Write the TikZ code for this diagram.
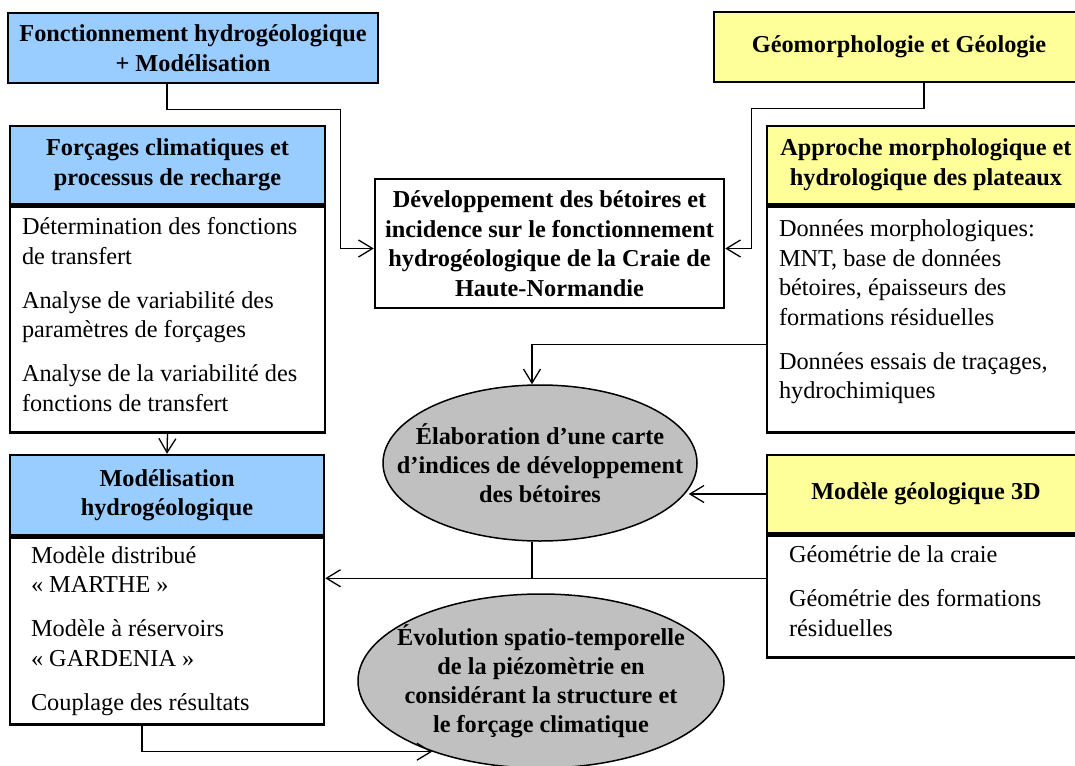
\documentclass[tikz,border=0pt]{standalone}
\usepackage{fontspec}
\setmainfont{Liberation Serif}
\usepackage{xcolor}
\usetikzlibrary{shapes.geometric, arrows.meta}
\usetikzlibrary{positioning}

\definecolor{hdrblue}{HTML}{99CCFF}
\definecolor{hdryellow}{HTML}{FFFF99}
\definecolor{ovalgray}{HTML}{C0C0C0}

\begin{document}
\begin{tikzpicture}[x=1pt, y=-1pt,
      every node/.style = {align=center, inner sep=0pt,
        font=\fontsize{24.3}{29.5}\selectfont},
      box/.style = {shape=rectangle, draw, line width=2.5pt,
        font=\fontsize{24.3}{29.5}\selectfont\bfseries},
      blue box/.style = {box, fill=hdrblue},
      yellow box/.style = {box, fill=hdryellow},
      list/.style = {shape=rectangle, draw, line width=2.5pt, fill=white,
        align=flush left, anchor=north},
      oval/.style = {shape=ellipse, draw, line width=1.5pt, fill=ovalgray},
      oval text/.style = {font=\fontsize{24.3}{29}\selectfont\bfseries},
      line/.style = {line width=1.3pt},
      link/.style = {line, -{Straight Barb[length=14pt,width=17pt]}}]
      \useasboundingbox (0,0) rectangle (1075,765);

      % top boxes
      \node[blue box, minimum width=370pt, minimum height=70pt] (fonct) at (193,48)
        {Fonctionnement hydrogéologique\\+ Modélisation};
      \node[yellow box, minimum width=370pt, minimum height=70pt] (geomorph) at (899,47)
        {Géomorphologie et Géologie};
      \node[box, fill=white, minimum width=349pt, minimum height=129pt] (devel) at (549.5,243.5)
        {Développement des bétoires et\\incidence sur le fonctionnement\\hydrogéologique de la Craie de\\Haute-Normandie};

      % left column
      \node[blue box, minimum width=315pt, minimum height=78pt] (forcage) at (167.5,165)
        {Forçages climatiques et\\processus de recharge};
      \node[list, below=0pt of forcage, text width=291pt, inner xsep=12pt, minimum height=226pt] (forcage list)
        {Détermination des fonctions\\de transfert\\[14.5pt]Analyse de variabilité des\\paramètres de forçages\\[14.5pt]Analyse de la variabilité des\\fonctions de transfert\\[-19.5pt]\mbox{}};
      \node[blue box, minimum width=314pt, minimum height=80pt] (modhydro) at (167,495)
        {Modélisation\\hydrogéologique};
      \node[list, below=0pt of modhydro, text width=272pt, inner xsep=21pt, minimum height=187pt] (modhydro list)
        {Modèle distribué\\« MARTHE »\\[14.5pt]Modèle à réservoirs\\« GARDENIA »\\[14.5pt]Couplage des résultats};

      % right column
      \node[yellow box, minimum width=318pt, minimum height=78pt] (approche) at (926,165)
        {Approche morphologique et\\hydrologique des plateaux};
      \node[list, below=0pt of approche, text width=294pt, inner xsep=12pt, minimum height=226pt] (approche list)
        {Données morphologiques:\\MNT, base de données\\bétoires, épaisseurs des\\formations résiduelles\\[14.5pt]Données essais de traçages,\\hydrochimiques\\[-9.5pt]\mbox{}};
      \node[yellow box, minimum width=318pt, minimum height=78pt] (modgeo) at (926,494)
        {Modèle géologique 3D};
      \node[list, below=0pt of modgeo, text width=274pt, inner xsep=22pt, minimum height=122pt] (modgeo list)
        {Géométrie de la craie\\[14.5pt]Géométrie des formations\\résiduelles\\[-18.5pt]\mbox{}};

      % ovals
      \node[oval, minimum width=314pt, minimum height=156pt] (carte) at (540,463) {};
      \node[oval text] (carte text) at (carte)
        {Élaboration d’une carte\\d’indices de développement\\des bétoires};
      \node[oval, minimum width=366pt, minimum height=174pt] (evol) at (541,681) {};
      \node[oval text] (evol text) at (evol)
        {Évolution spatio-temporelle\\de la piézomètrie en\\considérant la structure et\\le forçage climatique};

      % connectors
      \draw[link] ([xshift=-26pt]fonct.south) -- ++(0pt,-25pt)
        -| ([xshift=-33pt,yshift=-5pt]devel.west) -- ([yshift=-5pt]devel.west);
      \draw[link] ([xshift=25pt]geomorph.south) -- ++(0pt,-25pt)
        -| ([xshift=26pt,yshift=-5pt]devel.east) -- ([yshift=-5pt]devel.east);
      \draw[link] ([yshift=-139pt]approche list.north west) -| ([xshift=-8pt]carte.north);
      \draw[link] (forcage list.south) -- (modhydro.north);
      \draw[link] (modgeo.west) -- (carte.-10 |- modgeo.west);
      \coordinate (split) at ([yshift=-44pt]modgeo list.north west);
      \draw[line] ([xshift=-8pt]carte.south) -- ([xshift=-8pt]carte.south |- split);
      \draw[link] (split) -- (split -| modhydro list.east);
      \draw[link] ([xshift=-25pt]modhydro list.south) |- (evol.213);
    \end{tikzpicture}
\end{document}
